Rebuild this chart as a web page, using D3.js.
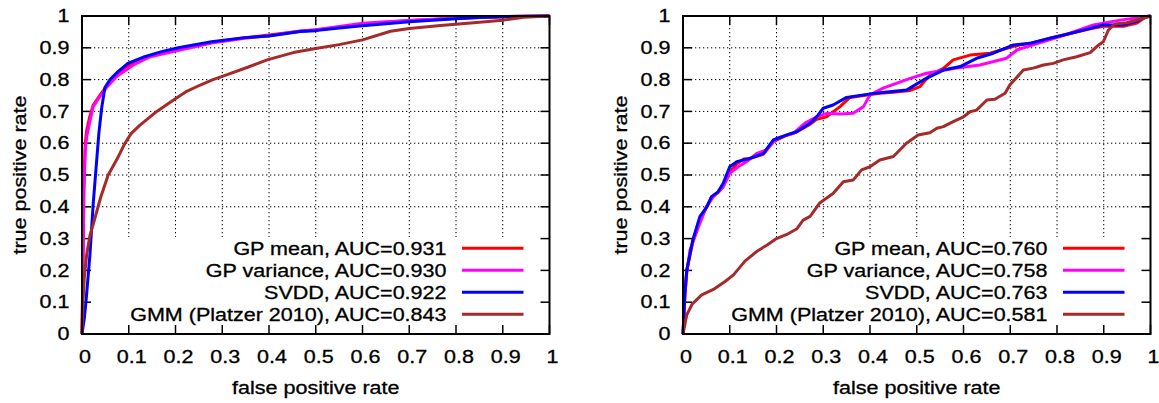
<!DOCTYPE html>
<html>
<head>
<meta charset="utf-8">
<script src="https://cdn.jsdelivr.net/npm/d3@7"></script>
<style>
  body { margin: 0; background: #fff; }
  text { font-family: "Liberation Sans", Arial, Helvetica, sans-serif; font-size: 17.5px; fill: #000; stroke: #000; stroke-width: 0.3px; }
</style>
</head>
<body>
<div id="chart"></div>
<script>
// tick values / labels (shared by both axes of both panels)
var tickValues = [0, 0.1, 0.2, 0.3, 0.4, 0.5, 0.6, 0.7, 0.8, 0.9, 1];
var tickLabels = ["0", "0.1", "0.2", "0.3", "0.4", "0.5", "0.6", "0.7", "0.8", "0.9", "1"];

var seriesNames = ["GP mean", "GP variance", "SVDD", "GMM (Platzer 2010)"];
var aucLeft = ["0.931", "0.930", "0.922", "0.843"];
var aucRight = ["0.760", "0.758", "0.763", "0.581"];

// ROC points [false positive rate, true positive rate]
var leftGpMean = [[0,0],[0.002,0.22],[0.004,0.47],[0.007,0.6],[0.01,0.64],[0.016,0.68],[0.024,0.72],[0.038,0.75],
  [0.053,0.78],[0.074,0.815],[0.11,0.852],[0.146,0.875],[0.2,0.892],[0.277,0.917],[0.348,0.932],[0.4,0.94],
  [0.467,0.952],[0.5,0.956],[0.55,0.965],[0.6,0.974],[0.65,0.98],[0.7,0.986],[0.75,0.989],[0.8,0.993],[0.9,0.998],[1,1]];
var leftGpVar = [[0,0],[0.002,0.2],[0.004,0.45],[0.007,0.58],[0.01,0.62],[0.016,0.663],[0.024,0.715],[0.038,0.746],
  [0.053,0.776],[0.074,0.81],[0.11,0.846],[0.146,0.872],[0.2,0.89],[0.277,0.915],[0.348,0.93],[0.4,0.938],
  [0.467,0.953],[0.5,0.957],[0.55,0.967],[0.6,0.977],[0.65,0.982],[0.7,0.986],[0.75,0.99],[0.8,0.994],[0.9,0.998],[1,1]];
var leftSvdd = [[0,0],[0.005,0.05],[0.009,0.11],[0.017,0.25],[0.024,0.41],[0.03,0.52],[0.036,0.63],[0.042,0.71],
  [0.049,0.775],[0.06,0.8],[0.077,0.825],[0.098,0.851],[0.134,0.872],[0.17,0.888],[0.206,0.9],[0.277,0.919],
  [0.348,0.932],[0.4,0.937],[0.467,0.951],[0.5,0.954],[0.55,0.962],[0.6,0.969],[0.65,0.976],[0.7,0.982],
  [0.75,0.987],[0.8,0.991],[0.85,0.995],[0.9,0.998],[1,1]];
var leftGmm = [[0,0],[0.002,0.1],[0.005,0.18],[0.01,0.25],[0.017,0.31],[0.025,0.35],[0.04,0.43],[0.056,0.5],
  [0.075,0.55],[0.092,0.6],[0.105,0.63],[0.124,0.657],[0.16,0.7],[0.195,0.735],[0.224,0.763],[0.253,0.783],
  [0.28,0.8],[0.3,0.81],[0.353,0.838],[0.396,0.862],[0.452,0.885],[0.5,0.898],[0.55,0.91],[0.6,0.925],[0.66,0.952],
  [0.7,0.961],[0.767,0.97],[0.838,0.979],[0.9,0.987],[0.945,0.996],[1,1]];

var rightGpMean = [[0,0],[0.004,0.12],[0.008,0.2],[0.021,0.29],[0.036,0.36],[0.051,0.4],[0.061,0.43],[0.075,0.445],
  [0.086,0.465],[0.1,0.51],[0.115,0.535],[0.13,0.55],[0.143,0.552],[0.172,0.565],[0.193,0.605],[0.222,0.625],
  [0.243,0.635],[0.272,0.66],[0.286,0.675],[0.307,0.683],[0.336,0.715],[0.357,0.744],[0.386,0.75],[0.421,0.757],
  [0.45,0.76],[0.486,0.766],[0.507,0.778],[0.528,0.814],[0.557,0.835],[0.578,0.862],[0.614,0.877],[0.657,0.883],
  [0.707,0.905],[0.742,0.914],[0.785,0.93],[0.828,0.945],[0.871,0.96],[0.899,0.968],[0.942,0.968],[0.971,0.978],
  [0.988,0.995],[1,1]];
var rightGpVar = [[0,0],[0.004,0.12],[0.008,0.19],[0.015,0.264],[0.036,0.348],[0.05,0.4],[0.065,0.432],[0.085,0.46],
  [0.1,0.505],[0.118,0.526],[0.136,0.542],[0.158,0.568],[0.179,0.579],[0.2,0.615],[0.236,0.631],[0.261,0.663],
  [0.286,0.683],[0.307,0.694],[0.336,0.692],[0.364,0.694],[0.386,0.715],[0.4,0.752],[0.428,0.773],[0.486,0.804],
  [0.521,0.82],[0.578,0.835],[0.635,0.846],[0.692,0.867],[0.714,0.893],[0.749,0.909],[0.806,0.935],[0.878,0.972],
  [0.935,0.987],[1,1]];
var rightSvdd = [[0,0],[0.004,0.13],[0.008,0.2],[0.021,0.296],[0.036,0.369],[0.051,0.4],[0.061,0.432],[0.075,0.447],
  [0.086,0.474],[0.1,0.526],[0.115,0.542],[0.143,0.552],[0.172,0.568],[0.193,0.61],[0.222,0.626],[0.243,0.636],
  [0.272,0.663],[0.286,0.683],[0.3,0.71],[0.321,0.72],[0.35,0.744],[0.386,0.752],[0.421,0.759],[0.478,0.767],
  [0.514,0.799],[0.557,0.83],[0.593,0.841],[0.628,0.867],[0.664,0.883],[0.707,0.909],[0.742,0.914],[0.785,0.93],
  [0.828,0.945],[0.871,0.961],[0.899,0.972],[0.942,0.972],[0.971,0.983],[0.988,0.998],[1,1]];
var rightGmm = [[0,0],[0.008,0.06],[0.02,0.095],[0.04,0.123],[0.065,0.14],[0.09,0.165],[0.108,0.186],[0.133,0.23],
  [0.16,0.262],[0.18,0.28],[0.2,0.3],[0.222,0.313],[0.243,0.33],[0.257,0.358],[0.272,0.37],[0.293,0.413],
  [0.321,0.442],[0.343,0.479],[0.364,0.484],[0.382,0.516],[0.4,0.526],[0.421,0.547],[0.45,0.558],[0.478,0.6],
  [0.503,0.626],[0.528,0.633],[0.543,0.647],[0.557,0.652],[0.578,0.668],[0.6,0.683],[0.614,0.699],[0.628,0.704],
  [0.65,0.736],[0.667,0.738],[0.689,0.757],[0.699,0.783],[0.728,0.83],[0.749,0.836],[0.771,0.846],[0.792,0.851],
  [0.813,0.862],[0.842,0.872],[0.871,0.885],[0.885,0.904],[0.899,0.919],[0.91,0.956],[0.924,0.975],[0.949,0.979],
  [0.978,0.99],[1,1]];

var colors = ["#ff0000", "#ff00ff", "#0000ff", "#a52a2a"];

var svg = d3.select("#chart").append("svg")
  .attr("width", 1159)
  .attr("height", 403);

// text in the picture runs wider than the font, stretch along the writing direction
var stretch = 1.23;
function addText(g, x, y, str, anchor, rot) {
  return g.append("text")
    .attr("transform", "translate(" + x + "," + y + ")" + (rot ? " rotate(" + rot + ")" : "") + " scale(" + stretch + ",1)")
    .attr("text-anchor", anchor)
    .text(str);
}

function drawPanel(left, series, aucs) {
  var top = 16, width = 467.5, height = 318;
  var g = svg.append("g").attr("transform", "translate(" + left + "," + top + ")");

  var x = d3.scaleLinear().domain([0, 1]).range([0, width]);
  var y = d3.scaleLinear().domain([0, 1]).range([height, 0]);

  // grid (dotted), cut away where the key sits
  var gridStop = y(0.305);
  g.selectAll(".vgrid").data(tickValues.slice(1, -1)).enter().append("line")
    .attr("x1", d => x(d)).attr("x2", d => x(d))
    .attr("y1", 0).attr("y2", gridStop)
    .attr("stroke", "#000").attr("stroke-width", 1).attr("stroke-dasharray", "1.3,2.7");
  g.selectAll(".hgrid").data(tickValues.filter(d => d > 0.35 && d < 1)).enter().append("line")
    .attr("x1", 0).attr("x2", width)
    .attr("y1", d => y(d)).attr("y2", d => y(d))
    .attr("stroke", "#000").attr("stroke-width", 1).attr("stroke-dasharray", "1.3,2.7");

  // ticks on all four sides, pointing in
  var tk = 9;
  tickValues.forEach(function (d) {
    g.append("line").attr("x1", x(d)).attr("x2", x(d)).attr("y1", height).attr("y2", height - tk)
      .attr("stroke", "#000").attr("stroke-width", 1.5);
    g.append("line").attr("x1", x(d)).attr("x2", x(d)).attr("y1", 0).attr("y2", tk)
      .attr("stroke", "#000").attr("stroke-width", 1.5);
    g.append("line").attr("y1", y(d)).attr("y2", y(d)).attr("x1", 0).attr("x2", tk)
      .attr("stroke", "#000").attr("stroke-width", 1.5);
    g.append("line").attr("y1", y(d)).attr("y2", y(d)).attr("x1", width).attr("x2", width - tk)
      .attr("stroke", "#000").attr("stroke-width", 1.5);
  });

  // tick labels
  tickValues.forEach(function (d, i) {
    addText(g, x(d) + 3, height + 29.3, tickLabels[i], "middle");
    addText(g, -12.5, y(d) + 6.2, tickLabels[i], "end");
  });

  // axis titles
  addText(g, width / 2, height + 60, "false positive rate", "middle");
  addText(g, -56, height / 2, "true positive rate", "middle", -90);

  // curves
  var line = d3.line().x(d => x(d[0])).y(d => y(d[1]));
  series.forEach(function (s, i) {
    g.append("path").datum(s)
      .attr("d", line)
      .attr("fill", "none")
      .attr("stroke", colors[i])
      .attr("stroke-width", 3)
      .attr("stroke-linejoin", "round");
  });

  // key
  seriesNames.forEach(function (name, i) {
    var ry = 232.3 + i * 22;
    addText(g, 364.5, ry + 6.2, name + ", AUC=" + aucs[i], "end");
    g.append("line").attr("x1", 380).attr("x2", 441.5).attr("y1", ry).attr("y2", ry)
      .attr("stroke", colors[i]).attr("stroke-width", 3);
  });

  // border
  g.append("rect").attr("x", 0).attr("y", 0).attr("width", width).attr("height", height)
    .attr("fill", "none").attr("stroke", "#000").attr("stroke-width", 2);
}

drawPanel(82, [leftGpMean, leftGpVar, leftSvdd, leftGmm], aucLeft);
drawPanel(683, [rightGpMean, rightGpVar, rightSvdd, rightGmm], aucRight);
</script>
</body>
</html>
